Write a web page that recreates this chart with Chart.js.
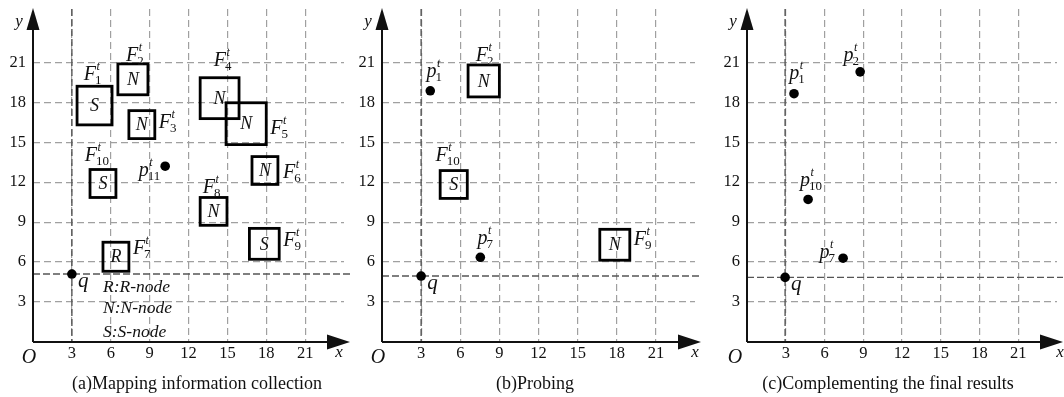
<!DOCTYPE html>
<html>
<head>
<meta charset="utf-8">
<script src="https://cdn.jsdelivr.net/npm/chart.js@4.4.1/dist/chart.umd.min.js"></script>
<style>
  html, body { margin: 0; padding: 0; background: #fff; }
  #wrap { position: relative; width: 1064px; height: 397px; overflow: hidden; }
  canvas { position: absolute; top: 0; }
  .cap { position: absolute; top: 373px; font: 18px "Liberation Serif", serif; color: #111; white-space: nowrap; transform: translateX(-50%); }
</style>
</head>
<body>
<div id="wrap">
  <canvas id="chartA" width="355" height="397" style="left:0px"></canvas>
  <canvas id="chartB" width="355" height="397" style="left:355px"></canvas>
  <canvas id="chartC" width="354" height="397" style="left:710px"></canvas>
  <div class="cap" style="left:197px">(a)Mapping information collection</div>
  <div class="cap" style="left:535px">(b)Probing</div>
  <div class="cap" style="left:888px">(c)Complementing the final results</div>
</div>
<script>
const TICKS = [3, 6, 9, 12, 15, 18, 21];
const X_MAX = 24;
const Y_MAX = 25;

// (a) mapping information collection
const A_BOX_IDS = ["1", "2", "3", "4", "5", "6", "7", "8", "9", "10"];
const A_BOX_TYPES = ["S", "N", "N", "N", "N", "N", "R", "N", "S", "S"];
const A_BOX_X0 = [3.4, 6.55, 7.4, 12.9, 14.9, 16.9, 5.4, 12.9, 16.7, 4.4];
const A_BOX_X1 = [6.1, 8.87, 9.4, 15.9, 18.0, 18.9, 7.4, 14.97, 19.0, 6.4];
const A_BOX_Y0 = [16.3, 18.56, 15.27, 16.77, 14.82, 11.83, 5.31, 8.76, 6.21, 10.85];
const A_BOX_Y1 = [19.2, 20.88, 17.37, 19.84, 17.96, 13.92, 7.49, 10.85, 8.53, 12.95];
const A_PT_IDS = ["11"];
const A_PT_X = [10.2];
const A_PT_Y = [13.2];
const A_Q = [3, 5.1];
const A_LEGEND = ["R:R-node", "N:N-node", "S:S-node"];

// (b) probing
const B_BOX_IDS = ["2", "10", "9"];
const B_BOX_TYPES = ["N", "S", "N"];
const B_BOX_X0 = [6.6, 4.46, 16.7];
const B_BOX_X1 = [9.0, 6.54, 19.0];
const B_BOX_Y0 = [18.4, 10.78, 6.14];
const B_BOX_Y1 = [20.8, 12.87, 8.46];
const B_PT_IDS = ["1", "7"];
const B_PT_X = [3.7, 7.54];
const B_PT_Y = [18.86, 6.36];
const B_Q = [3, 4.95];

// (c) complementing the final results
const C_PT_IDS = ["1", "2", "10", "7"];
const C_PT_X = [3.64, 8.76, 4.73, 7.44];
const C_PT_Y = [18.64, 20.28, 10.7, 6.29];
const C_Q = [2.95, 4.85];

const SERIF = '"Liberation Serif", "DejaVu Serif", serif';
const GRID = "#a0a0a0";

// label placement (pixel offsets): [side, dx, dy]
const A_BOX_LABELS = {
  "1": ["top", -2, 6], "2": ["top", 2, 3], "3": ["right", 4, 3], "4": ["top", 3, 12],
  "5": ["right", 4, 10], "6": ["right", 5, 7], "7": ["right", 4, -3], "8": ["top", -2, 4],
  "9": ["right", 4, 2], "10": ["top", -6, 9],
};
const B_BOX_LABELS = { "2": ["top", 1, 4], "10": ["top", -6, 10], "9": ["right", 4, 0] };
const A_PT_LABELS = { "11": ["left", -5, 10] };
const B_PT_LABELS = { "1": ["top", 4, -14], "7": ["top", 5, -13] };
const C_PT_LABELS = { "1": ["top", 3, -15], "2": ["top", -9, -11], "10": ["top", 3, -13], "7": ["left", -8, 0] };

function drawSym(ctx, base, sub, x, baseline, align) {
  ctx.font = `italic 20px ${SERIF}`;
  const wb = ctx.measureText(base).width;
  ctx.font = `13px ${SERIF}`;
  const ws = ctx.measureText(sub).width;
  const w = wb - 1 + ws;
  const left = align === "center" ? x - w / 2 : align === "right" ? x - w : x;
  ctx.textAlign = "left";
  ctx.textBaseline = "alphabetic";
  ctx.fillStyle = "#111";
  ctx.font = `italic 20px ${SERIF}`;
  ctx.fillText(base, left, baseline);
  ctx.font = `italic 12px ${SERIF}`;
  ctx.fillText("t", left + wb + 0.5, baseline - 10);
  ctx.font = `13px ${SERIF}`;
  ctx.fillText(sub, left + wb - 1, baseline + 4);
}

function makePlugin(p) {
  return {
    id: "diagram",
    beforeDatasetsDraw(chart) {
      const { ctx, chartArea, scales } = chart;
      const xs = scales.x, ys = scales.y;
      ctx.save();
      // q crosshair
      ctx.strokeStyle = "#555";
      ctx.lineWidth = 1.4;
      ctx.setLineDash([7, 3]);
      const qx = xs.getPixelForValue(p.q[0]), qy = ys.getPixelForValue(p.q[1]);
      ctx.beginPath();
      ctx.moveTo(chartArea.left, qy); ctx.lineTo(chartArea.right + 6, qy);
      ctx.moveTo(qx, chartArea.top); ctx.lineTo(qx, chartArea.bottom);
      ctx.stroke();
      ctx.setLineDash([]);
      // boxes
      ctx.strokeStyle = "#000";
      ctx.lineWidth = 2.8;
      p.boxIds.forEach((id, i) => {
        const l = xs.getPixelForValue(p.bx0[i]), r = xs.getPixelForValue(p.bx1[i]);
        const t = ys.getPixelForValue(p.by1[i]), b = ys.getPixelForValue(p.by0[i]);
        ctx.strokeRect(l, t, r - l, b - t);
        ctx.fillStyle = "#111";
        ctx.font = `italic 18px ${SERIF}`;
        ctx.textAlign = "center";
        ctx.textBaseline = "middle";
        ctx.fillText(p.boxTypes[i], (l + r) / 2, (t + b) / 2 + 1);
        const [side, dx, dy] = p.boxLabels[id];
        if (side === "top") drawSym(ctx, "F", id, (l + r) / 2 + dx, t - dy, "center");
        else drawSym(ctx, "F", id, r + dx, (t + b) / 2 + dy, "left");
      });
      ctx.restore();
    },
    afterDatasetsDraw(chart) {
      const { ctx, chartArea, scales } = chart;
      const xs = scales.x, ys = scales.y;
      const ox = xs.getPixelForValue(0), oy = ys.getPixelForValue(0);
      ctx.save();
      // point labels
      p.ptIds.forEach((id, i) => {
        const px = xs.getPixelForValue(p.px[i]), py = ys.getPixelForValue(p.py[i]);
        const [side, dx, dy] = p.ptLabels[id];
        if (side === "top") drawSym(ctx, "p", id, px + dx, py + dy, "center");
        else drawSym(ctx, "p", id, px + dx, py + dy, "right");
      });
      const qx = xs.getPixelForValue(p.q[0]), qy = ys.getPixelForValue(p.q[1]);
      ctx.fillStyle = "#111";
      ctx.textAlign = "left";
      ctx.textBaseline = "alphabetic";
      ctx.font = `italic 21px ${SERIF}`;
      ctx.fillText("q", qx + 6, qy + 13);
      // legend
      if (p.legend) {
        ctx.font = `italic 17.5px ${SERIF}`;
        const lx = ox + 70;
        [-50, -29, -5].forEach((off, i) => ctx.fillText(p.legend[i], lx, oy + off));
      }
      // axes with arrows
      ctx.strokeStyle = "#111";
      ctx.fillStyle = "#111";
      ctx.lineWidth = 2;
      const xr = chartArea.right + 6;
      ctx.beginPath();
      ctx.moveTo(ox, oy); ctx.lineTo(xr - 20, oy);
      ctx.moveTo(ox, oy); ctx.lineTo(ox, chartArea.top + 18);
      ctx.stroke();
      ctx.beginPath();
      ctx.moveTo(xr, oy); ctx.lineTo(xr - 23, oy - 7.5); ctx.lineTo(xr - 23, oy + 7.5); ctx.closePath();
      ctx.fill();
      ctx.beginPath();
      ctx.moveTo(ox, chartArea.top - 1); ctx.lineTo(ox - 6.5, chartArea.top + 21); ctx.lineTo(ox + 6.5, chartArea.top + 21); ctx.closePath();
      ctx.fill();
      ctx.textAlign = "center";
      ctx.font = `italic 17px ${SERIF}`;
      ctx.fillText("x", chartArea.right + p.xDx, oy + 15);
      ctx.fillText("y", ox - 14, chartArea.top + 17);
      ctx.font = `italic 20px ${SERIF}`;
      ctx.fillText("O", ox + p.oDx, oy + 21);
      ctx.restore();
    },
  };
}

function makePanel(canvasId, p) {
  const pts = p.ptIds.map((_, i) => ({ x: p.px[i], y: p.py[i] }));
  const axisBase = {
    type: "linear",
    min: 0,
    afterBuildTicks: (s) => { s.ticks = TICKS.map((v) => ({ value: v })); },
    grid: { color: GRID, lineWidth: 1.2, drawTicks: false },
    border: { display: false, dash: [7, 4] },
    ticks: { color: "#111", font: { family: SERIF, size: 16.5, lineHeight: 1 }, autoSkip: false, maxRotation: 0 },
  };
  return new Chart(document.getElementById(canvasId), {
    type: "scatter",
    data: {
      datasets: [
        { data: pts, pointRadius: 4.8, pointBackgroundColor: "#000", pointBorderWidth: 0 },
        { data: [{ x: p.q[0], y: p.q[1] }], pointRadius: 4.8, pointBackgroundColor: "#000", pointBorderWidth: 0 },
      ],
    },
    options: {
      responsive: false,
      animation: false,
      events: [],
      layout: { padding: { top: 9, left: 0, right: p.padRight, bottom: 0 } },
      plugins: { legend: { display: false }, tooltip: { enabled: false } },
      scales: {
        x: {
          ...axisBase, max: X_MAX, ticks: { ...axisBase.ticks, padding: 3 },
          afterFit: (s) => { s.height = 55; s.paddingLeft = 0; s.paddingRight = 0; },
        },
        y: {
          ...axisBase, max: Y_MAX, ticks: { ...axisBase.ticks, padding: 7 },
          afterFit: (s) => { s.width = p.yWidth; s.paddingTop = 0; s.paddingBottom = 0; },
        },
      },
    },
    plugins: [makePlugin(p)],
  });
}

makePanel("chartA", {
  boxIds: A_BOX_IDS, boxTypes: A_BOX_TYPES, bx0: A_BOX_X0, bx1: A_BOX_X1, by0: A_BOX_Y0, by1: A_BOX_Y1,
  boxLabels: A_BOX_LABELS, ptIds: A_PT_IDS, px: A_PT_X, py: A_PT_Y, ptLabels: A_PT_LABELS,
  q: A_Q, legend: A_LEGEND, yWidth: 33, padRight: 11, xDx: -5, oDx: -4,
});
makePanel("chartB", {
  boxIds: B_BOX_IDS, boxTypes: B_BOX_TYPES, bx0: B_BOX_X0, bx1: B_BOX_X1, by0: B_BOX_Y0, by1: B_BOX_Y1,
  boxLabels: B_BOX_LABELS, ptIds: B_PT_IDS, px: B_PT_X, py: B_PT_Y, ptLabels: B_PT_LABELS,
  q: B_Q, legend: null, yWidth: 27, padRight: 15, xDx: 0, oDx: -4,
});
makePanel("chartC", {
  boxIds: [], boxTypes: [], bx0: [], bx1: [], by0: [], by1: [],
  boxLabels: {}, ptIds: C_PT_IDS, px: C_PT_X, py: C_PT_Y, ptLabels: C_PT_LABELS,
  q: C_Q, legend: null, yWidth: 37, padRight: 7, xDx: 3, oDx: -12,
});
</script>
</body>
</html>
